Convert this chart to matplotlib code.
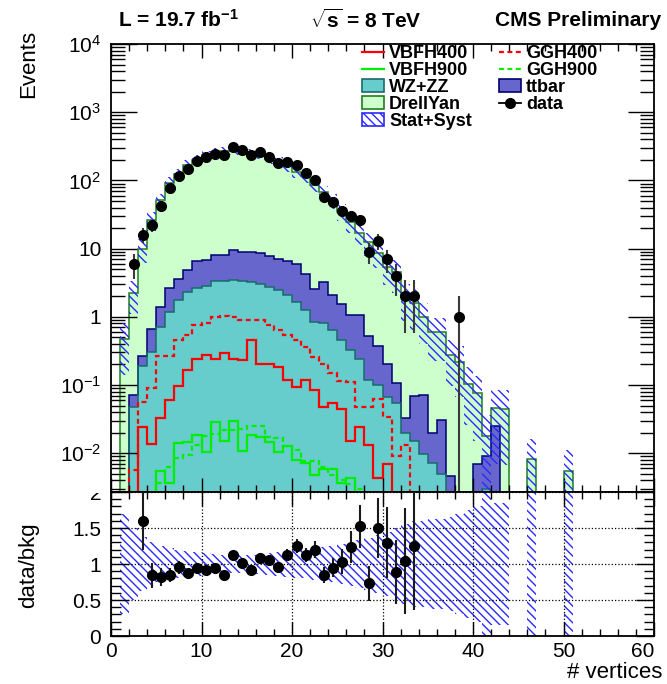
import numpy as np
import matplotlib
matplotlib.use('Agg')
import matplotlib.pyplot as plt
from matplotlib.patches import Patch
from matplotlib.lines import Line2D
from matplotlib.ticker import MultipleLocator, LogLocator, FixedLocator, FixedFormatter, NullFormatter
from matplotlib.transforms import Bbox, TransformedBbox

plt.rcParams['font.family'] = ['Liberation Sans', 'DejaVu Sans']
plt.rcParams['mathtext.fontset'] = 'custom'
plt.rcParams['mathtext.rm'] = 'Liberation Sans'
plt.rcParams['mathtext.it'] = 'Liberation Sans:italic'
plt.rcParams['mathtext.bf'] = 'Liberation Sans:bold'
plt.rcParams['hatch.linewidth'] = 1.0
plt.rcParams['hatch.color'] = '#2a2aff'

# 60 bins of width 1, from 0 to 60 vertices
edges = np.arange(0, 61)

# backgrounds (events per bin)
wzzz = [0, 0, 0.048, 0.19, 0.31, 0.71, 1.18, 1.75, 2.3, 2.65,
        2.83, 3.4, 3.4, 3.5, 3.4, 3.2, 3.06, 2.74, 2.45, 2.07,
        1.65, 1.25, 0.84, 0.8, 0.64, 0.46, 0.33, 0.24, 0.12, 0.1,
        0.066, 0.054, 0.0195, 0.015, 0.0096, 0.0071, 0.005, 0, 0, 0,
        0, 0.003, 0, 0, 0, 0, 0, 0, 0, 0,
        0, 0, 0, 0, 0, 0, 0, 0, 0, 0]
ttbar = [0, 0, 0.023, 0.075, 0.35, 0.69, 1.47, 1.85, 2.5, 3.85,
         3.87, 4.6, 4.6, 5.9, 5.5, 5.8, 5.64, 5.06, 4.55, 4.43,
         4.35, 2.95, 1.76, 2.4, 1.43, 1.09, 0.72, 0.81, 0.40, 0.27,
         0.134, 0.053, 0.0135, 0.055, 0.062, 0.0124, 0.026, 0.0047, 0, 0,
         0.007, 0.0062, 0.025, 0, 0, 0, 0, 0, 0, 0,
         0, 0, 0, 0, 0, 0, 0, 0, 0, 0]
drellyan = [0, 0.47, 2.13, 9.74, 25.5, 49.8, 88, 120, 163, 193.5,
            231, 250, 265, 264, 261, 249, 229, 199, 181, 157.5,
            127, 110, 83.4, 63.8, 48.4, 33.4, 23.3, 16, 11.8, 8.3,
            5.2, 4.4, 1.89, 1.53, 0.93, 0.58, 0.57, 0.275, 0.22, 0.105,
            0.069, 0.0088, 0.021, 0.045, 0, 0, 0.0082, 0, 0, 0,
            0.0055, 0, 0, 0, 0, 0, 0, 0, 0, 0]

# relative stat+syst uncertainty on the total background
unc = [0, 0.7, 0.5, 0.38, 0.3, 0.25, 0.22, 0.2, 0.18, 0.16,
       0.15, 0.14, 0.13, 0.13, 0.13, 0.13, 0.14, 0.15, 0.16, 0.18,
       0.19, 0.2, 0.22, 0.23, 0.25, 0.28, 0.3, 0.33, 0.36, 0.4,
       0.45, 0.5, 0.55, 0.6, 0.6, 0.62, 0.62, 0.65, 0.7, 0.75,
       0.8, 1.0, 0.85, 0.85, 0, 0, 1.0, 0, 0, 0,
       1.0, 0, 0, 0, 0, 0, 0, 0, 0, 0]

# signals (not stacked)
vbfh400 = [0, 0, 0, 0.0244, 0.0135, 0.0324, 0.060, 0.096, 0.165, 0.244,
           0.28, 0.244, 0.29, 0.244, 0.23, 0.46, 0.2, 0.2, 0.185, 0.12,
           0.094, 0.12, 0.084, 0.048, 0.054, 0.044, 0.015, 0.0244, 0.013, 0.0043,
           0.0069] + [0] * 29
ggh400 = [0, 0, 0.0057, 0.057, 0.089, 0.27, 0.27, 0.45, 0.54, 0.75,
          0.8, 1.0, 1.02, 1.0, 0.89, 0.89, 0.89, 0.75, 0.65, 0.55,
          0.45, 0.36, 0.26, 0.2, 0.15, 0.115, 0.11, 0.048, 0.048, 0.063,
          0.034, 0.009, 0.013] + [0] * 27
vbfh900 = [0, 0, 0, 0, 0, 0.0054, 0.0036, 0.0139, 0.0148, 0.0185,
           0.0105, 0.029, 0.015, 0.0296, 0.0107, 0.0188, 0.0174, 0.0148, 0.0105, 0.0129,
           0.0079, 0.0071, 0.0048, 0.0059, 0.0059, 0.0036, 0.0044] + [0] * 33
ggh900 = [0, 0, 0, 0, 0, 0.0036, 0.0063, 0.0084, 0.0094, 0.0131,
          0.0178, 0.0194, 0.0218, 0.0218, 0.023, 0.025, 0.025, 0.0174, 0.017, 0.0129,
          0.0112, 0.0076, 0.0076, 0.0063, 0.0048, 0.004, 0.0035, 0.003] + [0] * 32

data = [0, 0, 6, 16, 22, 42, 77, 118, 146, 190,
        219, 245, 232, 307, 275, 237, 259, 219, 179, 185,
        166, 128, 103, 57, 48, 36, 30, 26, 9, 13,
        7, 4, 2, 2, 0, 0, 0, 0, 1, 0] + [0] * 20

wzzz = np.array(wzzz)
ttbar = np.array(ttbar)
drellyan = np.array(drellyan)
unc = np.array(unc)
data = np.array(data, dtype=float)
centers = edges[:-1] + 0.5

top_wz = wzzz
top_tt = wzzz + ttbar
total = top_tt + drellyan

TINY = 1e-6


def nz(v):
    # empty bins drawn far below the visible range (as ROOT does)
    v = np.asarray(v, dtype=float)
    return np.where(v > 0, v, TINY)


W, H = 667, 684
fig = plt.figure(figsize=(W / 100, H / 100), dpi=100)
L, R = 111, 654
ax = fig.add_axes([L / W, 1 - 492 / H, (R - L) / W, (492 - 44) / H])
ax2 = fig.add_axes([L / W, 1 - 636 / H, (R - L) / W, (636 - 492) / H])

# stacked backgrounds, each drawn from the bottom
stack = [(total, '#ccffcc', '#1f7f1f'),
         (top_tt, '#6666cc', '#000070'),
         (top_wz, '#66cccc', '#1a6a6a')]
for vals, fc, ec in stack:
    ax.stairs(nz(vals), edges, baseline=TINY, fill=True, color=fc, lw=0, zorder=1)
    ax.stairs(nz(vals), edges, baseline=TINY, fill=False, color=ec, lw=1.1, zorder=1.1)

dash = (0, (2.2, 1.6))
ax.stairs(nz(vbfh400), edges, baseline=None, color='#ff0000', lw=1.6, zorder=2)
ax.stairs(nz(ggh400), edges, baseline=None, color='#ff0000', lw=1.6, ls=dash, zorder=2)
ax.stairs(nz(vbfh900), edges, baseline=None, color='#00ee00', lw=1.6, zorder=2)
ax.stairs(nz(ggh900), edges, baseline=None, color='#00ee00', lw=1.6, ls=dash, zorder=2)

hatch = '\\\\\\\\'
m = (total > 0) & (unc > 0)
ax.bar(centers[m], 2 * unc[m] * total[m], bottom=total[m] * (1 - unc[m]), width=1.0,
       fill=False, hatch=hatch, edgecolor='#2a2aff', linewidth=0, zorder=3)

md = data > 0
ax.errorbar(centers[md], data[md], yerr=np.sqrt(data[md]), fmt='o', color='k',
            ecolor='#3a3a3a', elinewidth=1.5, ms=7, capsize=0, zorder=4)

ax.set_yscale('log', nonpositive='clip')
ax.set_xlim(0, 60)
ax.set_ylim(0.0027, 1e4)
ax.yaxis.set_major_locator(FixedLocator([1e-2, 1e-1, 1, 10, 1e2, 1e3, 1e4]))
ax.yaxis.set_major_formatter(FixedFormatter(['$10^{-2}$', '$10^{-1}$', '1', '10',
                                             '$10^{2}$', '$10^{3}$', '$10^{4}$']))
ax.yaxis.set_minor_locator(LogLocator(base=10, subs=np.arange(2, 10), numticks=20))
ax.yaxis.set_minor_formatter(NullFormatter())
ax.xaxis.set_major_locator(MultipleLocator(10))
ax.xaxis.set_minor_locator(MultipleLocator(2))
ax.tick_params(which='both', direction='in', top=True, right=True, labelbottom=False,
               labelsize=15, width=1)
ax.tick_params(axis='x', which='major', length=10)
ax.tick_params(axis='x', which='minor', length=5)
ax.tick_params(axis='y', which='major', length=19, pad=7)
ax.tick_params(axis='y', which='minor', length=10)
ax.set_axisbelow(False)

# ratio panel
mr = md & (total > 0)
ratio = data[mr] / total[mr]
rerr = np.sqrt(data[mr]) / total[mr]
xr = centers[mr]
show = ratio <= 2
ax2.bar(centers[m], 2 * unc[m], bottom=1 - unc[m], width=1.0, fill=False,
        hatch=hatch, edgecolor='#2a2aff', linewidth=0, zorder=2)
ax2.errorbar(xr[show], ratio[show], yerr=rerr[show], fmt='o', color='k',
             ecolor='#1a1a1a', elinewidth=1.5, ms=7, capsize=0, zorder=4)
ax2.set_xlim(0, 60)
ax2.set_ylim(0, 2)
ax2.xaxis.set_major_locator(FixedLocator([0, 10, 20, 30, 40, 50, 60]))
ax2.xaxis.set_major_formatter(FixedFormatter(['0', '10', '20', '30', '40', '50', '60']))
ax2.xaxis.set_minor_locator(MultipleLocator(2))
ax2.yaxis.set_major_locator(FixedLocator([0, 0.5, 1, 1.5, 2]))
ax2.yaxis.set_major_formatter(FixedFormatter(['0', '0.5', '1', '1.5', '2']))
ax2.yaxis.set_minor_locator(MultipleLocator(0.1))
ax2.tick_params(which='both', direction='in', top=True, right=True, labelsize=15, width=1)
ax2.tick_params(axis='x', which='major', length=10, pad=4)
ax2.tick_params(axis='x', which='minor', length=5)
ax2.tick_params(axis='y', which='major', length=13, pad=7)
ax2.tick_params(axis='y', which='minor', length=7)
ax2.grid(True, which='major', ls=':', color='k', lw=0.9)
ax2.set_axisbelow(False)

for a in (ax, ax2):
    for s in a.spines.values():
        s.set_linewidth(1.3)

# the "2" of the ratio axis is cut by the upper pad
clip = TransformedBbox(Bbox([[0, 0], [1, 1 - 493 / H]]), fig.transFigure)
for t in ax2.get_yticklabels():
    t.set_clip_box(clip)
    t.set_clip_on(True)
# last x label kept inside the pad
ax2.get_xticklabels()[-1].set_horizontalalignment('right')

# axis titles
fig.text(29 / W, 1 - 30 / H, 'Events', rotation=90, ha='center', va='top', fontsize=16)
fig.text(29 / W, 1 - 565 / H, 'data/bkg', rotation=90, ha='center', va='center', fontsize=16)
fig.text(662 / W, 1 - 678 / H, '# vertices', ha='right', va='baseline', fontsize=16)

# header
fig.text(118 / W, 1 - 20 / H, r'L = 19.7 fb$^{\mathbf{-1}}$', ha='left', va='center',
         fontsize=15, weight='bold')
fig.text(310 / W, 1 - 20 / H, r'$\sqrt{\mathbf{s}}$ = 8 TeV', ha='left', va='center',
         fontsize=15, weight='bold')
fig.text(661 / W, 1 - 20 / H, 'CMS Preliminary', ha='right', va='center',
         fontsize=15, weight='bold')

# legend
handles = [Line2D([], [], color='#ff0000', lw=1.6),
           Line2D([], [], color='#00ee00', lw=1.6),
           Patch(fc='#66cccc', ec='#1a6a6a', lw=1.2),
           Patch(fc='#ccffcc', ec='#1f7f1f', lw=1.2),
           Patch(fc='none', ec='#2a2aff', hatch=hatch, lw=1.2),
           Line2D([], [], color='#ff0000', lw=1.6, ls=dash),
           Line2D([], [], color='#00ee00', lw=1.6, ls=dash),
           Patch(fc='#6666cc', ec='#000070', lw=1.2),
           Line2D([], [], color='k', marker='o', ms=7, lw=1.3)]
labels = ['VBFH400', 'VBFH900', 'WZ+ZZ', 'DrellYan', 'Stat+Syst',
          'GGH400', 'GGH900', 'ttbar', 'data']
fig.legend(handles, labels, ncol=2, loc='upper left', bbox_to_anchor=(362 / W, 1 - 45 / H),
           frameon=False, prop={'weight': 'bold', 'size': 13}, handlelength=1.2,
           handleheight=0.72, handletextpad=0.3, columnspacing=1.5, labelspacing=0.0,
           borderpad=0, borderaxespad=0)

fig.savefig('out.png', dpi=100)
